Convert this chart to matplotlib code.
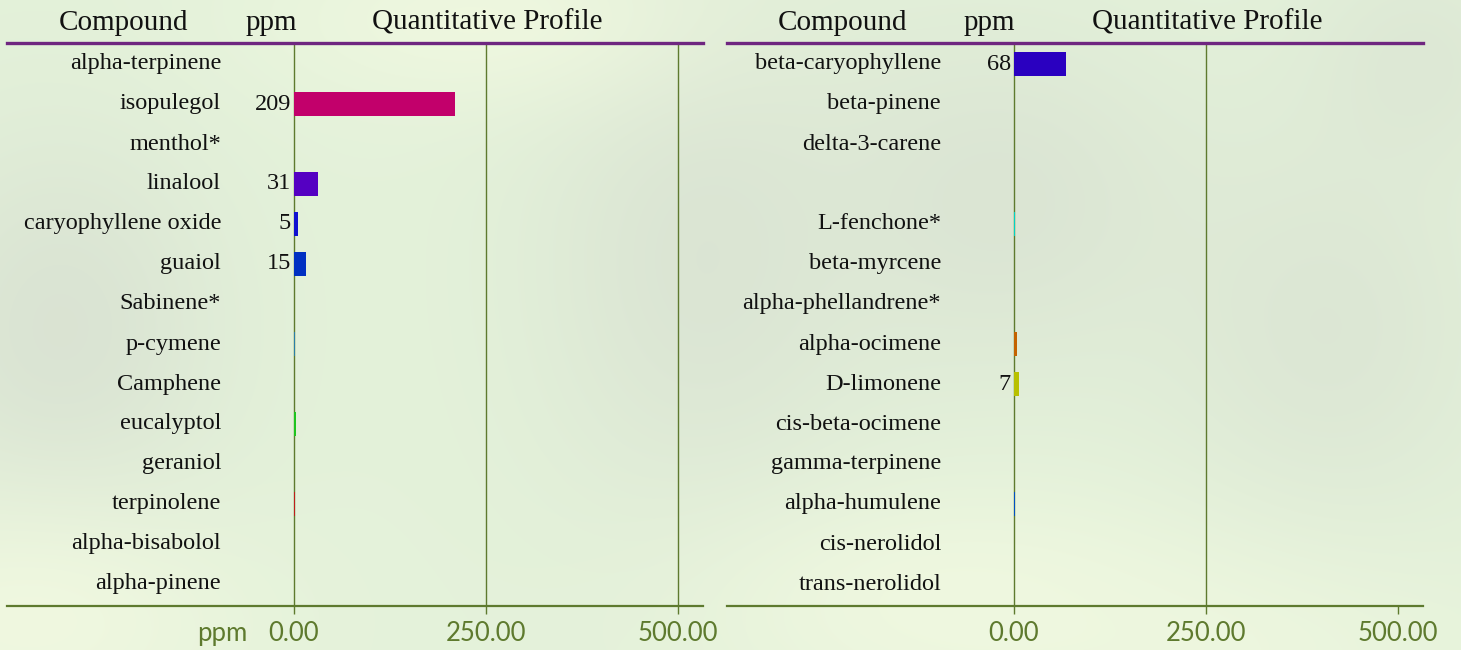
import numpy as np
import matplotlib
matplotlib.use("Agg")
import matplotlib.pyplot as plt

# ---------------- data ----------------
left_compounds = ["alpha-terpinene", "isopulegol", "menthol*", "linalool",
                  "caryophyllene oxide", "guaiol", "Sabinene*", "p-cymene",
                  "Camphene", "eucalyptol", "geraniol", "terpinolene",
                  "alpha-bisabolol", "alpha-pinene"]
left_values = [0, 209, 0, 31, 5, 15, 0, 1.3, 0, 2.6, 0, 1.3, 0, 0]
left_colors = ["#888888", "#c2006b", "#888888", "#5500c2", "#1010d0", "#0030c2",
               "#888888", "#2a7fa8", "#888888", "#1ec41e", "#888888", "#c01c1c",
               "#888888", "#888888"]

right_compounds = ["beta-caryophyllene", "beta-pinene", "delta-3-carene", "",
                   "L-fenchone*", "beta-myrcene", "alpha-phellandrene*",
                   "alpha-ocimene", "D-limonene", "cis-beta-ocimene",
                   "gamma-terpinene", "alpha-humulene", "cis-nerolidol",
                   "trans-nerolidol"]
right_values = [68, 0, 0, 0, 0.8, 0, 0, 4.4, 7, 0, 0, 1.3, 0, 0]
right_colors = ["#2a00c0", "#888888", "#888888", "#888888", "#00d4c4", "#888888",
                "#888888", "#c46200", "#b8c000", "#888888", "#888888", "#0050c4",
                "#888888", "#888888"]

tick_values = [0, 250, 500]
tick_labels = ["0.00", "250.00", "500.00"]
header_labels = ["Compound", "ppm", "Quantitative Profile"]

# ---------------- figure ----------------
W, H = 1461, 650
fig = plt.figure(figsize=(W / 100, H / 100), dpi=100)

# soft blurred background
yy, xx = np.mgrid[0:H, 0:W]
base = np.array([0.894, 0.949, 0.855])
img = np.ones((H, W, 3)) * base
def blob(cx, cy, sx, sy, col, amt):
    global img
    g = np.exp(-(((xx - cx) / sx) ** 2 + ((yy - cy) / sy) ** 2))[..., None] * amt
    img = img * (1 - g) + np.array(col) * g
gray = (0.845, 0.878, 0.820)
light = (0.945, 0.975, 0.880)
blob(60, 330, 160, 200, gray, 0.8)
blob(700, 260, 170, 260, gray, 0.7)
blob(1000, 200, 200, 180, gray, 0.7)
blob(1330, 330, 170, 200, gray, 0.6)
blob(1420, 60, 120, 120, gray, 0.5)
blob(480, 20, 220, 90, light, 0.8)
blob(30, 620, 220, 120, light, 0.9)
blob(950, 600, 260, 110, light, 0.8)
blob(1200, 650, 300, 100, light, 0.6)
bg = fig.add_axes([0, 0, 1, 1], zorder=-10)
bg.imshow(np.clip(img, 0, 1), aspect="auto", extent=(0, 1, 0, 1))
bg.axis("off")

OLIVE = "#5e7a2e"
PURPLE = "#6f2680"
serif = "Liberation Serif"
sans = "Lato"

px_per_ppm = 192 / 250.0
top_px, bot_px = 43, 606
row0_px, row_step = 64, 40

def fx(px):
    return px / W

def fy(py):
    return 1 - py / H

def panel(x0, x1, zero_px, compounds, values, colors, grid_vals, label_x, value_x, with_ppm):
    ax = fig.add_axes([fx(x0), fy(bot_px), (x1 - x0) / W, (bot_px - top_px) / H])
    ax.patch.set_alpha(0)
    xmin = (x0 - zero_px) / px_per_ppm
    xmax = (x1 - zero_px) / px_per_ppm
    ax.set_xlim(xmin, xmax)
    n = len(compounds)
    ymin = -(row0_px - top_px) / row_step
    ymax = (n - 1) + (bot_px - (row0_px + (n - 1) * row_step)) / row_step
    ax.set_ylim(ymax, ymin)
    y = np.arange(n)
    for gv in grid_vals:
        ax.axvline(gv, color=OLIVE, lw=1.0, zorder=1)
    ax.barh(y, values, height=0.62, color=colors, zorder=2)
    for s in ["left", "right"]:
        ax.spines[s].set_visible(False)
    ax.spines["top"].set_color(PURPLE)
    ax.spines["top"].set_linewidth(2.4)
    ax.spines["bottom"].set_color(OLIVE)
    ax.spines["bottom"].set_linewidth(1.6)
    ax.set_yticks([])
    ax.set_xticks(tick_values)
    ax.set_xticklabels(tick_labels, fontfamily=sans, fontsize=18.5, color=OLIVE)
    ax.tick_params(axis="x", direction="out", length=6, width=1.0, color=OLIVE, pad=5)
    for i, (c, v) in enumerate(zip(compounds, values)):
        ty = fy(row0_px + i * row_step)
        fig.text(fx(label_x), ty, c, ha="right", va="center", fontfamily=serif,
                 fontsize=17.5, color="#111111")
        if v >= 5:
            fig.text(fx(value_x), ty, f"{v:g}", ha="right", va="center", fontfamily=serif,
                     fontsize=17.5, color="#111111")
    if with_ppm:
        fig.text(fx(222), fy(633), "ppm", ha="center", va="center", fontfamily=sans,
                 fontsize=18.5, color=OLIVE)
    return ax

panel(7, 703, 294, left_compounds, left_values, left_colors, [0, 250, 500], 221, 291, True)
panel(727, 1423, 1014, right_compounds, right_values, right_colors, [0, 250], 941, 1011, False)

# headers
for cx, lab in zip([123, 271, 487], header_labels):
    fig.text(fx(cx), fy(23), lab, ha="center", va="center", fontfamily=serif,
             fontsize=21, color="#111111")
for cx, lab in zip([843, 989, 1207], header_labels):
    fig.text(fx(cx), fy(23), lab, ha="center", va="center", fontfamily=serif,
             fontsize=21, color="#111111")

fig.savefig("out.png", dpi=100)
